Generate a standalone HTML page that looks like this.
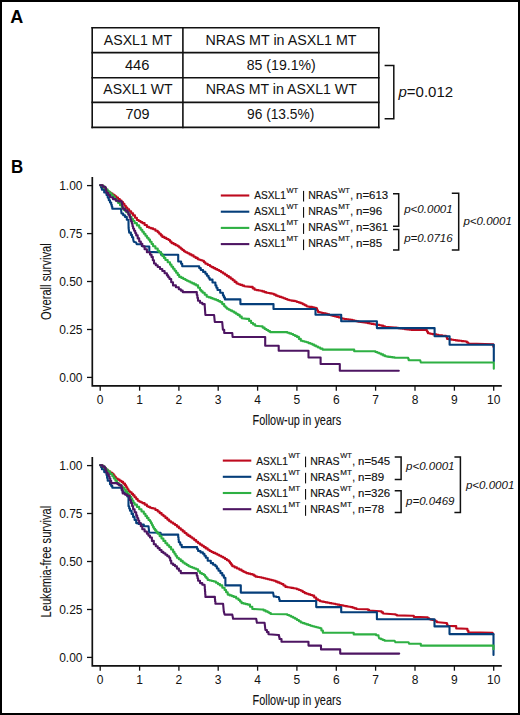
<!DOCTYPE html>
<html><head><meta charset="utf-8"><style>
html,body{margin:0;padding:0;background:#fff;}
body{width:520px;height:715px;overflow:hidden;position:relative;}
.frame{position:absolute;left:0;top:0;width:516px;height:711px;border:2px solid #000;}
svg{position:absolute;left:0;top:0;}
text{font-family:"Liberation Sans",sans-serif;fill:#111;}
.tb{font-size:14px;}
.pt{font-size:15px;}
.AB{font-size:18px;font-weight:bold;fill:#000;}
.tick{font-size:12px;}
.lab{font-size:14.3px;stroke:#111;stroke-width:0.1px;}
.leg{font-size:10.1px;stroke:#111;stroke-width:0.15px;}
.sup{font-size:7.8px;stroke:#111;stroke-width:0.15px;}
.pv{font-size:10.5px;font-style:italic;}
</style></head><body>
<div class="frame"></div>
<svg width="520" height="715" viewBox="0 0 520 715">
<line x1="91.4" y1="27.75" x2="379.6" y2="27.75" stroke="#111" stroke-width="1.6"/>
<line x1="91.4" y1="52.6" x2="379.6" y2="52.6" stroke="#111" stroke-width="1.6"/>
<line x1="91.4" y1="77.8" x2="379.6" y2="77.8" stroke="#111" stroke-width="1.6"/>
<line x1="91.4" y1="102.4" x2="379.6" y2="102.4" stroke="#111" stroke-width="1.6"/>
<line x1="91.4" y1="127.4" x2="379.6" y2="127.4" stroke="#111" stroke-width="1.6"/>
<line x1="92.2" y1="27" x2="92.2" y2="128.2" stroke="#111" stroke-width="1.6"/>
<line x1="182.9" y1="27" x2="182.9" y2="128.2" stroke="#111" stroke-width="1.6"/>
<line x1="378.8" y1="27" x2="378.8" y2="128.2" stroke="#111" stroke-width="1.6"/>
<text x="138.0" y="44.7" text-anchor="middle" class="tb" textLength="68.4" lengthAdjust="spacingAndGlyphs">ASXL1 MT</text>
<text x="281.05" y="44.7" text-anchor="middle" class="tb" textLength="151" lengthAdjust="spacingAndGlyphs">NRAS MT in ASXL1 MT</text>
<text x="137.15" y="69.6" text-anchor="middle" class="tb" textLength="24.5" lengthAdjust="spacingAndGlyphs">446</text>
<text x="281.25" y="69.6" text-anchor="middle" class="tb" textLength="69" lengthAdjust="spacingAndGlyphs">85 (19.1%)</text>
<text x="138.0" y="94.4" text-anchor="middle" class="tb" textLength="69.3" lengthAdjust="spacingAndGlyphs">ASXL1 WT</text>
<text x="281.25" y="94.4" text-anchor="middle" class="tb" textLength="151.2" lengthAdjust="spacingAndGlyphs">NRAS MT in ASXL1 WT</text>
<text x="137.5" y="119.3" text-anchor="middle" class="tb" textLength="24" lengthAdjust="spacingAndGlyphs">709</text>
<text x="280.65" y="119.3" text-anchor="middle" class="tb" textLength="67.3" lengthAdjust="spacingAndGlyphs">96 (13.5%)</text>
<polyline points="384.6,65.4 393.8,65.4 393.8,118.8 384.6,118.8" fill="none" stroke="#111" stroke-width="1.5"/>
<text x="398.5" y="97" class="pt"><tspan font-style="italic">p</tspan>=0.012</text>
<text x="10.3" y="23" class="AB">A</text>
<text x="10.9" y="172.7" class="AB" textLength="12.2" lengthAdjust="spacingAndGlyphs">B</text>
<polyline points="92.3,176.9 92.3,385.9 501.8,385.9" fill="none" stroke="#111" stroke-width="1.7" stroke-linejoin="miter"/>
<line x1="87" y1="185.6" x2="92.2" y2="185.6" stroke="#111" stroke-width="1.3"/>
<text x="82.5" y="190.1" text-anchor="end" class="tick">1.00</text>
<line x1="87" y1="233.6" x2="92.2" y2="233.6" stroke="#111" stroke-width="1.3"/>
<text x="82.5" y="238.1" text-anchor="end" class="tick">0.75</text>
<line x1="87" y1="281.5" x2="92.2" y2="281.5" stroke="#111" stroke-width="1.3"/>
<text x="82.5" y="286.0" text-anchor="end" class="tick">0.50</text>
<line x1="87" y1="329.5" x2="92.2" y2="329.5" stroke="#111" stroke-width="1.3"/>
<text x="82.5" y="334.0" text-anchor="end" class="tick">0.25</text>
<line x1="87" y1="377.4" x2="92.2" y2="377.4" stroke="#111" stroke-width="1.3"/>
<text x="82.5" y="381.9" text-anchor="end" class="tick">0.00</text>
<line x1="100.2" y1="385.9" x2="100.2" y2="390.7" stroke="#111" stroke-width="1.3"/>
<text x="100.2" y="403.8" text-anchor="middle" class="tick">0</text>
<line x1="139.6" y1="385.9" x2="139.6" y2="390.7" stroke="#111" stroke-width="1.3"/>
<text x="139.6" y="403.8" text-anchor="middle" class="tick">1</text>
<line x1="178.9" y1="385.9" x2="178.9" y2="390.7" stroke="#111" stroke-width="1.3"/>
<text x="178.9" y="403.8" text-anchor="middle" class="tick">2</text>
<line x1="218.2" y1="385.9" x2="218.2" y2="390.7" stroke="#111" stroke-width="1.3"/>
<text x="218.2" y="403.8" text-anchor="middle" class="tick">3</text>
<line x1="257.6" y1="385.9" x2="257.6" y2="390.7" stroke="#111" stroke-width="1.3"/>
<text x="257.6" y="403.8" text-anchor="middle" class="tick">4</text>
<line x1="296.9" y1="385.9" x2="296.9" y2="390.7" stroke="#111" stroke-width="1.3"/>
<text x="296.9" y="403.8" text-anchor="middle" class="tick">5</text>
<line x1="336.3" y1="385.9" x2="336.3" y2="390.7" stroke="#111" stroke-width="1.3"/>
<text x="336.3" y="403.8" text-anchor="middle" class="tick">6</text>
<line x1="375.6" y1="385.9" x2="375.6" y2="390.7" stroke="#111" stroke-width="1.3"/>
<text x="375.6" y="403.8" text-anchor="middle" class="tick">7</text>
<line x1="415.0" y1="385.9" x2="415.0" y2="390.7" stroke="#111" stroke-width="1.3"/>
<text x="415.0" y="403.8" text-anchor="middle" class="tick">8</text>
<line x1="454.4" y1="385.9" x2="454.4" y2="390.7" stroke="#111" stroke-width="1.3"/>
<text x="454.4" y="403.8" text-anchor="middle" class="tick">9</text>
<line x1="493.7" y1="385.9" x2="493.7" y2="390.7" stroke="#111" stroke-width="1.3"/>
<text x="493.7" y="403.8" text-anchor="middle" class="tick">10</text>
<text x="0" y="0" class="lab" text-anchor="middle" textLength="76.6" lengthAdjust="spacingAndGlyphs" transform="translate(50.7,281.6) rotate(-90)">Overall survival</text>
<text x="296.8" y="424.9" class="lab" text-anchor="middle" textLength="88.6" lengthAdjust="spacingAndGlyphs">Follow-up in years</text>
<polyline points="92.3,456.9 92.3,665.9 501.8,665.9" fill="none" stroke="#111" stroke-width="1.7" stroke-linejoin="miter"/>
<line x1="87" y1="465.6" x2="92.2" y2="465.6" stroke="#111" stroke-width="1.3"/>
<text x="82.5" y="470.1" text-anchor="end" class="tick">1.00</text>
<line x1="87" y1="513.5" x2="92.2" y2="513.5" stroke="#111" stroke-width="1.3"/>
<text x="82.5" y="518.0" text-anchor="end" class="tick">0.75</text>
<line x1="87" y1="561.5" x2="92.2" y2="561.5" stroke="#111" stroke-width="1.3"/>
<text x="82.5" y="566.0" text-anchor="end" class="tick">0.50</text>
<line x1="87" y1="609.5" x2="92.2" y2="609.5" stroke="#111" stroke-width="1.3"/>
<text x="82.5" y="614.0" text-anchor="end" class="tick">0.25</text>
<line x1="87" y1="657.4" x2="92.2" y2="657.4" stroke="#111" stroke-width="1.3"/>
<text x="82.5" y="661.9" text-anchor="end" class="tick">0.00</text>
<line x1="100.2" y1="665.9" x2="100.2" y2="670.7" stroke="#111" stroke-width="1.3"/>
<text x="100.2" y="683.8" text-anchor="middle" class="tick">0</text>
<line x1="139.6" y1="665.9" x2="139.6" y2="670.7" stroke="#111" stroke-width="1.3"/>
<text x="139.6" y="683.8" text-anchor="middle" class="tick">1</text>
<line x1="178.9" y1="665.9" x2="178.9" y2="670.7" stroke="#111" stroke-width="1.3"/>
<text x="178.9" y="683.8" text-anchor="middle" class="tick">2</text>
<line x1="218.2" y1="665.9" x2="218.2" y2="670.7" stroke="#111" stroke-width="1.3"/>
<text x="218.2" y="683.8" text-anchor="middle" class="tick">3</text>
<line x1="257.6" y1="665.9" x2="257.6" y2="670.7" stroke="#111" stroke-width="1.3"/>
<text x="257.6" y="683.8" text-anchor="middle" class="tick">4</text>
<line x1="296.9" y1="665.9" x2="296.9" y2="670.7" stroke="#111" stroke-width="1.3"/>
<text x="296.9" y="683.8" text-anchor="middle" class="tick">5</text>
<line x1="336.3" y1="665.9" x2="336.3" y2="670.7" stroke="#111" stroke-width="1.3"/>
<text x="336.3" y="683.8" text-anchor="middle" class="tick">6</text>
<line x1="375.6" y1="665.9" x2="375.6" y2="670.7" stroke="#111" stroke-width="1.3"/>
<text x="375.6" y="683.8" text-anchor="middle" class="tick">7</text>
<line x1="415.0" y1="665.9" x2="415.0" y2="670.7" stroke="#111" stroke-width="1.3"/>
<text x="415.0" y="683.8" text-anchor="middle" class="tick">8</text>
<line x1="454.4" y1="665.9" x2="454.4" y2="670.7" stroke="#111" stroke-width="1.3"/>
<text x="454.4" y="683.8" text-anchor="middle" class="tick">9</text>
<line x1="493.7" y1="665.9" x2="493.7" y2="670.7" stroke="#111" stroke-width="1.3"/>
<text x="493.7" y="683.8" text-anchor="middle" class="tick">10</text>
<text x="0" y="0" class="lab" text-anchor="middle" textLength="111.6" lengthAdjust="spacingAndGlyphs" transform="translate(50.7,561.6) rotate(-90)">Leukemia-free survival</text>
<text x="296.8" y="704.9" class="lab" text-anchor="middle" textLength="88.6" lengthAdjust="spacingAndGlyphs">Follow-up in years</text>
<polyline points="100.2,185.3 102.3,185.3 102.3,187.2 104.4,187.2 104.4,189.1 106.5,189.1 106.5,191.0 108.5,191.0 108.5,192.3 110.5,192.3 110.5,193.6 112.6,193.6 112.6,194.9 114.6,194.9 114.6,196.2 116.3,196.2 116.3,197.6 118.0,197.6 118.0,199.1 119.8,199.1 119.8,200.6 121.5,200.6 121.5,202.0 123.0,202.0 123.0,203.8 124.4,203.8 124.4,205.7 125.8,205.7 125.8,207.6 127.3,207.6 127.3,209.4 129.2,209.4 129.2,211.4 131.2,211.4 131.2,213.4 133.1,213.4 133.1,215.4 135.0,215.4 135.0,217.7 136.9,217.7 136.9,220.0 138.7,220.0 138.7,221.0 140.5,221.0 140.5,222.1 142.3,222.1 142.3,223.1 144.6,223.1 144.6,225.0 146.9,225.0 146.9,226.9 149.0,226.9 149.0,227.7 151.0,227.7 151.0,228.4 153.1,228.4 153.1,229.2 155.4,229.2 155.4,230.8 157.7,230.8 157.7,232.3 159.2,232.3 159.2,233.8 160.8,233.8 160.8,235.4 162.3,235.4 162.3,236.9 164.4,236.9 164.4,237.9 166.4,237.9 166.4,239.0 168.5,239.0 168.5,240.0 170.0,240.0 170.0,241.6 171.5,241.6 171.5,243.1 173.6,243.1 173.6,244.1 175.6,244.1 175.6,245.2 177.7,245.2 177.7,246.2 179.2,246.2 179.2,247.5 180.8,247.5 180.8,248.7 182.3,248.7 182.3,250.0 183.9,250.0 183.9,251.2 185.4,251.2 185.4,252.3 187.4,252.3 187.4,253.3 189.5,253.3 189.5,254.4 191.5,254.4 191.5,255.4 193.6,255.4 193.6,256.7 195.6,256.7 195.6,257.9 197.7,257.9 197.7,259.2 199.2,259.2 199.2,259.7 200.8,259.7 200.8,260.3 202.3,260.3 202.3,260.8 203.9,260.8 203.9,262.3 205.4,262.3 205.4,263.8 207.7,263.8 207.7,265.0 210.0,265.0 210.0,266.2 211.5,266.2 211.5,267.1 213.4,267.1 213.4,268.1 215.3,268.1 215.3,269.1 217.3,269.1 217.3,270.0 219.2,270.0 219.2,271.0 221.1,271.0 221.1,272.3 223.1,272.3 223.1,273.5 225.0,273.5 225.0,274.8 226.9,274.8 226.9,276.1 228.9,276.1 228.9,277.4 230.8,277.4 230.8,278.7 232.7,278.7 232.7,280.3 234.6,280.3 234.6,281.9 236.5,281.9 236.5,283.5 238.4,283.5 238.4,284.2 240.3,284.2 240.3,284.9 242.3,284.9 242.3,285.6 244.2,285.6 244.2,286.3 250.8,286.9 252.7,286.9 252.7,288.4 254.6,288.4 254.6,289.8 256.5,289.8 256.5,290.1 258.5,290.1 258.5,290.5 260.4,290.5 260.4,290.8 262.3,290.8 262.3,291.4 264.3,291.4 264.3,292.1 266.2,292.1 266.2,292.7 268.1,292.7 268.1,293.0 270.0,293.0 270.0,293.4 271.9,293.4 271.9,293.7 273.9,293.7 273.9,294.6 275.8,294.6 275.8,295.6 277.7,295.6 277.7,296.2 279.6,296.2 279.6,296.9 281.5,296.9 281.5,297.5 283.4,297.5 283.4,298.3 285.4,298.3 285.4,299.0 287.3,299.0 287.3,299.8 289.2,299.8 289.2,300.2 291.1,300.2 291.1,300.6 293.1,300.6 293.1,300.9 295.0,300.9 295.0,301.3 296.9,301.3 296.9,302.0 298.9,302.0 298.9,302.6 300.8,302.6 300.8,303.3 302.7,303.3 302.7,304.3 304.6,304.3 304.6,305.2 306.5,305.2 306.5,306.2 310.0,306.9 312.0,306.9 312.0,307.4 314.0,307.4 314.0,307.8 316.0,307.8 316.0,308.3 317.0,308.3 317.0,310.2 318.0,310.2 318.0,312.1 319.9,312.1 319.9,312.5 321.9,312.5 321.9,313.0 323.9,313.0 323.9,313.4 325.8,313.4 325.8,313.8 327.5,313.8 327.5,314.4 329.2,314.4 329.2,315.0 331.1,315.0 331.1,315.5 333.0,315.5 333.0,315.9 335.0,315.9 335.0,316.4 336.9,316.4 336.9,316.9 338.8,316.9 338.8,317.5 340.8,317.5 340.8,318.2 342.7,318.2 342.7,318.8 344.6,318.8 344.6,319.1 346.5,319.1 346.5,319.3 348.5,319.3 348.5,319.6 350.4,319.6 350.4,319.8 352.3,319.8 352.3,320.3 354.2,320.3 354.2,320.8 356.2,320.8 356.2,321.2 358.1,321.2 358.1,321.7 360.0,321.7 360.0,322.0 361.9,322.0 361.9,322.3 363.9,322.3 363.9,322.5 365.8,322.5 365.8,322.8 367.7,322.8 367.7,323.1 369.6,323.1 369.6,323.5 371.5,323.5 371.5,323.9 373.5,323.9 373.5,324.2 375.4,324.2 375.4,324.6 377.3,324.6 377.3,324.9 379.3,324.9 379.3,325.3 381.2,325.3 381.2,325.6 383.1,325.6 383.1,326.2 385.0,326.2 385.0,326.9 394.6,327.5 396.4,327.5 396.4,327.8 398.2,327.8 398.2,328.2 400.0,328.2 400.0,328.5 402.3,328.5 402.3,328.8 404.6,328.8 404.6,329.1 406.9,329.1 406.9,329.4 409.2,329.4 409.2,329.7 411.5,329.7 411.5,330.0 426.0,330.0 426.9,330.0 426.9,331.6 427.9,331.6 427.9,333.3 430.0,333.3 430.0,333.7 432.1,333.7 432.1,334.1 434.3,334.1 434.3,334.4 436.4,334.4 436.4,334.8 438.5,334.8 438.5,335.2 440.4,335.2 440.4,335.4 442.2,335.4 442.2,335.7 444.1,335.7 444.1,335.9 446.0,335.9 446.0,336.2 446.6,336.2 446.6,337.6 447.1,337.6 447.1,339.0 449.3,339.0 449.3,339.4 451.5,339.4 451.5,339.7 453.6,339.7 453.6,340.0 455.8,340.0 455.8,340.4 457.7,340.4 457.7,340.6 459.6,340.6 459.6,340.8 461.6,340.8 461.6,341.1 463.5,341.1 463.5,341.3 465.4,341.3 465.4,341.5 466.9,341.5 466.9,342.5 468.3,342.5 468.3,343.5 493.3,344.2 493.3,346.7" fill="none" stroke="#be0a1e" stroke-width="2.1" stroke-linejoin="round" stroke-linecap="round"/>
<polyline points="100.2,185.3 101.1,185.3 101.1,187.6 101.9,187.6 101.9,189.8 104.2,189.8 104.2,192.4 106.5,192.4 106.5,195.0 107.7,195.0 107.7,197.6 108.8,197.6 108.8,200.2 110.0,200.2 110.0,202.5 111.2,202.5 111.2,204.8 111.8,204.8 111.8,206.8 112.3,206.8 112.3,208.8 121.0,208.8 121.5,213.5 123.2,213.5 123.2,215.2 125.0,215.2 125.0,216.9 126.8,216.9 126.8,219.8 128.5,219.8 128.5,222.7 128.6,228.0 129.2,232.6 130.9,232.6 130.9,234.9 132.0,234.9 132.0,237.2 133.2,237.2 133.2,239.5 133.8,241.8 136.1,242.4 136.7,244.2 140.7,244.2 141.8,244.2 141.8,245.9 144.2,246.5 149.3,246.5 149.3,251.9 158.0,252.2 161.0,252.2 161.0,254.8 178.2,254.8 178.2,261.5 181.1,261.5 181.1,263.8 182.2,263.8 182.2,266.2 197.7,266.2 199.2,266.2 199.2,268.1 200.8,268.1 200.8,270.0 203.1,270.0 203.1,271.9 205.4,271.9 205.4,273.8 206.9,273.8 206.9,275.8 208.5,275.8 208.5,277.7 209.6,277.7 209.6,279.6 212.5,279.6 212.5,282.5 215.4,282.5 215.4,285.4 216.4,285.4 216.4,287.7 217.5,287.7 217.5,290.0 220.2,290.0 220.2,292.7 222.9,292.7 222.9,295.4 223.9,295.4 223.9,297.4 224.9,297.4 224.9,299.4 240.4,299.4 240.4,304.1 273.5,304.1 273.5,309.0 315.5,309.0 315.5,314.8 341.2,314.8 341.2,321.2 376.9,321.2 376.9,328.1 434.6,328.1 434.6,336.2 449.6,336.2 449.6,344.8 493.8,344.8 493.8,361.2" fill="none" stroke="#053e7a" stroke-width="2.1" stroke-linejoin="round" stroke-linecap="round"/>
<polyline points="100.2,185.3 101.9,185.8 103.8,185.8 103.8,187.7 105.8,187.7 105.8,189.6 107.7,189.6 107.7,191.5 109.6,191.5 109.6,193.4 111.6,193.4 111.6,195.4 113.5,195.4 113.5,197.3 115.0,197.3 115.0,199.2 116.6,199.2 116.6,201.1 118.1,201.1 118.1,203.0 120.0,203.0 120.0,205.3 121.9,205.3 121.9,207.7 123.8,207.7 123.8,210.0 126.2,210.0 126.2,212.3 128.5,212.3 128.5,214.6 130.0,214.6 130.0,216.9 131.5,216.9 131.5,219.0 133.1,219.0 133.1,221.0 134.6,221.0 134.6,223.1 136.9,223.1 136.9,225.4 139.2,225.4 139.2,227.7 140.7,227.7 140.7,229.7 142.3,229.7 142.3,231.8 143.8,231.8 143.8,233.8 145.4,233.8 145.4,235.7 146.9,235.7 146.9,237.7 148.5,237.7 148.5,239.6 150.0,239.6 150.0,241.8 151.6,241.8 151.6,244.0 153.1,244.0 153.1,246.2 155.4,246.2 155.4,248.5 157.7,248.5 157.7,250.8 159.2,250.8 159.2,252.3 160.8,252.3 160.8,253.8 162.3,253.8 162.3,255.9 163.9,255.9 163.9,257.9 165.4,257.9 165.4,260.0 167.7,260.0 167.7,262.3 170.0,262.3 170.0,264.6 171.5,264.6 171.5,266.7 173.1,266.7 173.1,268.7 174.6,268.7 174.6,270.8 176.1,270.8 176.1,272.8 177.7,272.8 177.7,274.9 179.2,274.9 179.2,276.9 181.3,276.9 181.3,277.9 183.3,277.9 183.3,279.0 185.4,279.0 185.4,280.0 186.9,280.0 186.9,280.8 188.5,280.8 188.5,281.5 190.4,281.5 190.4,282.5 192.3,282.5 192.3,283.4 194.3,283.4 194.3,284.4 196.2,284.4 196.2,285.4 198.1,285.4 198.1,287.7 200.0,287.7 200.0,290.0 201.3,290.0 201.3,291.4 202.7,291.4 202.7,292.7 204.7,292.7 204.7,294.7 206.7,294.7 206.7,296.7 208.8,296.7 208.8,297.4 210.8,297.4 210.8,298.1 212.6,298.1 212.6,298.8 214.4,298.8 214.4,299.4 216.2,299.4 216.2,300.1 218.2,300.1 218.2,301.1 220.2,301.1 220.2,302.1 222.2,302.1 222.2,304.1 224.2,304.1 224.2,306.2 225.6,306.2 225.6,307.5 226.9,307.5 226.9,308.8 228.7,308.8 228.7,309.7 230.5,309.7 230.5,310.6 232.3,310.6 232.3,311.5 234.1,311.5 234.1,312.6 235.9,312.6 235.9,313.8 237.7,313.8 237.7,314.9 239.7,314.9 239.7,316.6 241.7,316.6 241.7,318.3 247.1,318.9 249.1,318.9 249.1,320.9 251.1,320.9 251.1,323.0 253.1,323.0 253.1,324.4 255.2,324.4 255.2,325.7 260.6,326.3 262.6,326.3 262.6,327.6 264.6,327.6 264.6,329.0 266.4,329.0 266.4,330.0 268.2,330.0 268.2,331.1 270.0,331.1 270.0,332.1 285.4,332.1 287.3,332.1 287.3,332.7 289.3,332.7 289.3,333.4 291.2,333.4 291.2,334.0 293.1,334.0 293.1,335.0 295.0,335.0 295.0,335.9 296.9,335.9 296.9,336.9 298.9,336.9 298.9,338.9 300.8,338.9 300.8,340.8 302.7,340.8 302.7,341.3 304.6,341.3 304.6,341.8 306.5,341.8 306.5,342.3 308.4,342.3 308.4,343.1 310.4,343.1 310.4,343.8 312.3,343.8 312.3,344.6 314.2,344.6 314.2,345.6 316.1,345.6 316.1,346.5 318.0,346.5 318.0,347.5 320.2,347.5 320.2,348.6 322.5,348.6 322.5,349.6 352.3,349.6 354.2,349.6 354.2,351.2 373.5,351.2 375.4,351.2 375.4,352.0 377.3,352.0 377.3,352.7 379.2,352.7 379.2,353.5 381.1,353.5 381.1,354.4 383.1,354.4 383.1,355.4 385.0,355.4 385.0,356.3 386.9,356.3 386.9,356.6 388.8,356.6 388.8,356.9 390.8,356.9 390.8,357.1 392.7,357.1 392.7,357.4 394.6,357.4 394.6,357.7 407.7,357.7 408.2,357.7 408.2,358.9 408.7,358.9 408.7,360.2 420.2,360.2 420.8,362.5 493.8,362.5 493.8,368.8" fill="none" stroke="#2eb043" stroke-width="2.1" stroke-linejoin="round" stroke-linecap="round"/>
<polyline points="100.2,185.3 102.8,185.3 102.8,186.7 105.4,186.7 105.4,188.0 106.0,188.0 106.0,190.3 106.5,190.3 106.5,192.7 108.2,192.7 108.2,195.0 110.0,195.0 110.0,197.3 112.9,197.3 112.9,199.1 115.8,199.1 115.8,200.8 118.7,200.8 118.7,201.4 121.5,201.4 121.5,202.0 121.9,202.0 121.9,204.3 122.3,204.3 122.3,206.5 122.7,206.5 122.7,208.8 125.0,208.8 125.0,210.6 127.3,210.6 127.3,212.3 128.4,212.3 128.4,214.6 129.6,214.6 129.6,216.9 130.4,216.9 130.4,219.2 131.1,219.2 131.1,221.5 131.9,221.5 131.9,223.8 132.5,223.8 132.5,226.2 133.1,226.2 133.1,228.5 134.1,228.5 134.1,230.8 135.2,230.8 135.2,233.1 136.2,233.1 136.2,235.4 137.7,235.4 137.7,238.4 139.2,238.4 139.2,241.5 140.8,241.5 140.8,243.8 142.3,243.8 142.3,246.2 144.6,246.2 144.6,249.2 146.9,249.2 146.9,252.3 150.0,252.3 150.0,254.6 151.5,254.6 151.5,256.9 152.8,256.9 152.8,260.2 154.0,260.2 154.0,263.5 155.8,263.5 155.8,265.2 157.7,265.2 157.7,267.0 160.0,267.0 160.0,269.0 162.3,269.0 162.3,271.0 164.6,271.0 164.6,273.2 166.9,273.2 166.9,275.4 168.2,275.4 168.2,277.2 169.5,277.2 169.5,279.0 171.2,279.0 171.2,282.2 173.0,282.2 173.0,285.4 175.9,285.4 175.9,287.3 178.8,287.3 178.8,289.2 180.8,289.2 180.8,290.6 182.7,290.6 182.7,292.1 196.2,292.1 196.8,292.1 196.8,295.0 197.4,295.0 197.4,297.9 198.0,297.9 198.0,300.8 200.0,300.8 200.0,302.8 202.3,302.8 202.3,304.1 204.7,304.1 204.7,305.5 205.4,315.0 214.1,315.0 214.8,322.0 222.2,322.0 222.9,329.7 224.2,329.7 224.2,333.0 232.3,333.0 232.6,337.0 265.2,337.0 265.2,345.7 278.7,345.7 278.7,350.8 308.5,350.8 308.5,357.5 320.6,357.5 320.6,364.0 339.8,364.0 339.8,370.8 398.8,370.8" fill="none" stroke="#4d1562" stroke-width="2.1" stroke-linejoin="round" stroke-linecap="round"/>
<polyline points="100.2,465.2 102.3,465.2 102.3,466.9 104.4,466.9 104.4,468.7 106.5,468.7 106.5,470.4 108.4,470.4 108.4,471.5 110.4,471.5 110.4,472.7 112.3,472.7 112.3,473.8 113.5,473.8 113.5,475.4 114.6,475.4 114.6,476.9 115.8,476.9 115.8,478.5 117.7,478.5 117.7,479.6 119.6,479.6 119.6,480.8 121.5,480.8 121.5,481.9 123.2,481.9 123.2,483.6 125.0,483.6 125.0,485.4 126.2,485.4 126.2,487.3 127.3,487.3 127.3,489.3 128.5,489.3 128.5,491.2 130.0,491.2 130.0,492.3 131.6,492.3 131.6,493.9 133.1,493.9 133.1,495.4 134.6,495.4 134.6,497.2 136.2,497.2 136.2,499.0 137.7,499.0 137.7,500.8 139.2,500.8 139.2,501.6 140.8,501.6 140.8,502.3 142.3,502.3 142.3,503.1 144.6,503.1 144.6,504.6 146.9,504.6 146.9,506.2 148.4,506.2 148.4,506.9 150.0,506.9 150.0,507.7 151.6,507.7 151.6,508.1 153.1,508.1 153.1,508.5 155.4,508.5 155.4,510.0 157.7,510.0 157.7,511.5 159.6,511.5 159.6,513.1 161.6,513.1 161.6,514.7 163.5,514.7 163.5,516.3 165.4,516.3 165.4,517.9 167.3,517.9 167.3,519.6 169.2,519.6 169.2,521.2 171.1,521.2 171.1,522.5 173.1,522.5 173.1,523.7 175.0,523.7 175.0,525.0 176.9,525.0 176.9,526.6 178.9,526.6 178.9,528.2 180.8,528.2 180.8,529.8 182.7,529.8 182.7,531.4 184.6,531.4 184.6,533.0 186.5,533.0 186.5,534.6 188.4,534.6 188.4,535.9 190.4,535.9 190.4,537.2 192.3,537.2 192.3,538.5 194.2,538.5 194.2,540.1 196.2,540.1 196.2,541.7 198.1,541.7 198.1,543.3 200.0,543.3 200.0,544.6 201.9,544.6 201.9,545.8 203.8,545.8 203.8,547.1 205.7,547.1 205.7,548.4 207.7,548.4 207.7,549.7 209.6,549.7 209.6,551.0 211.5,551.0 211.5,552.0 213.4,552.0 213.4,552.9 215.4,552.9 215.4,553.8 217.3,553.8 217.3,554.8 219.2,554.8 219.2,555.8 221.2,555.8 221.2,556.7 223.1,556.7 223.1,557.7 225.0,557.7 225.0,559.0 226.9,559.0 226.9,560.2 228.8,560.2 228.8,561.5 230.0,561.5 230.0,563.1 231.1,563.1 231.1,564.6 232.3,564.6 232.3,566.2 234.6,566.2 234.6,567.4 236.9,567.4 236.9,568.5 239.2,568.5 239.2,569.6 241.5,569.6 241.5,570.8 243.1,570.8 243.1,571.6 244.6,571.6 244.6,572.3 246.2,572.3 246.2,573.1 248.2,573.1 248.2,573.6 250.3,573.6 250.3,574.1 252.3,574.1 252.3,574.6 253.9,574.6 253.9,575.6 255.4,575.6 255.4,576.6 257.4,576.6 257.4,577.0 259.5,577.0 259.5,577.3 261.5,577.3 261.5,577.7 263.6,577.7 263.6,578.2 265.6,578.2 265.6,578.7 267.7,578.7 267.7,579.2 269.7,579.2 269.7,579.7 271.8,579.7 271.8,580.3 273.8,580.3 273.8,580.8 275.7,580.8 275.7,581.6 277.6,581.6 277.6,582.4 279.6,582.4 279.6,583.2 281.5,583.2 281.5,584.0 283.4,584.0 283.4,585.5 285.4,585.5 285.4,586.9 287.3,586.9 287.3,587.2 289.2,587.2 289.2,587.5 291.2,587.5 291.2,587.9 293.1,587.9 293.1,588.2 295.0,588.2 295.0,588.5 296.9,588.5 296.9,589.3 298.9,589.3 298.9,590.0 300.8,590.0 300.8,590.8 302.7,590.8 302.7,592.0 304.6,592.0 304.6,593.1 306.5,593.1 306.5,593.7 308.5,593.7 308.5,594.4 310.4,594.4 310.4,595.0 312.3,595.0 312.3,595.6 314.2,595.6 314.2,597.5 316.2,597.5 316.2,599.4 318.1,599.4 318.1,600.3 320.0,600.3 320.0,601.3 321.9,601.3 321.9,601.6 323.9,601.6 323.9,602.0 325.8,602.0 325.8,602.4 327.7,602.4 327.7,602.7 329.6,602.7 329.6,603.1 331.5,603.1 331.5,603.5 333.5,603.5 333.5,603.8 335.4,603.8 335.4,604.2 337.3,604.2 337.3,604.6 339.2,604.6 339.2,605.0 341.2,605.0 341.2,605.4 343.1,605.4 343.1,605.8 345.0,605.8 345.0,606.1 347.0,606.1 347.0,606.5 348.9,606.5 348.9,606.8 350.8,606.8 350.8,607.1 352.7,607.1 352.7,607.7 354.6,607.7 354.6,608.4 356.5,608.4 356.5,609.0 366.9,609.2 368.0,609.2 368.0,609.9 369.2,609.9 369.2,610.5 380.0,611.2 381.6,611.2 381.6,612.4 383.1,612.4 383.1,613.5 393.8,614.2 395.4,614.2 395.4,614.8 396.9,614.8 396.9,615.4 412.3,615.7 413.8,615.7 413.8,616.9 426.2,617.2 427.7,617.2 427.7,618.2 429.2,618.2 429.2,619.2 430.7,619.2 430.7,619.6 432.3,619.6 432.3,619.9 433.8,619.9 433.8,620.3 435.4,620.3 435.4,621.3 436.9,621.3 436.9,622.3 438.1,622.3 446.2,623.0 446.9,623.0 446.9,624.4 447.5,624.4 447.5,625.7 454.2,626.1 456.2,626.1 456.2,628.4 466.3,628.8 467.4,628.8 467.4,630.6 468.4,630.6 468.4,632.4 492.6,632.8 493.3,634.4" fill="none" stroke="#be0a1e" stroke-width="2.1" stroke-linejoin="round" stroke-linecap="round"/>
<polyline points="100.2,465.2 101.1,465.2 101.1,467.2 101.9,467.2 101.9,469.2 104.2,469.2 104.2,472.1 106.5,472.1 106.5,475.0 107.1,475.0 107.1,477.9 107.7,477.9 107.7,480.8 110.0,480.8 110.0,484.2 111.2,484.2 111.2,485.9 112.3,485.9 112.3,487.7 120.4,487.7 121.6,487.7 121.6,490.0 122.7,490.0 122.7,492.3 124.5,492.3 124.5,493.5 126.2,493.5 126.2,494.6 127.3,494.6 127.3,496.4 128.5,496.4 128.5,498.1 128.5,506.2 129.2,506.2 129.2,508.5 130.0,508.5 130.0,510.8 131.6,510.8 131.6,513.9 133.1,513.9 133.1,516.9 134.6,516.9 134.6,520.0 136.2,520.0 136.2,523.1 138.5,523.1 138.5,523.9 140.8,523.9 140.8,524.6 143.8,524.6 143.8,526.2 148.5,526.2 149.2,532.5 159.6,532.7 160.6,532.7 160.6,534.6 177.9,534.6 178.2,534.6 178.2,537.2 178.5,537.2 178.5,539.7 178.8,539.7 178.8,542.3 180.2,542.3 180.2,544.7 181.7,544.7 181.7,547.1 196.2,547.1 197.1,547.1 197.1,549.0 198.1,549.0 198.1,551.0 200.5,551.0 200.5,552.4 202.9,552.4 202.9,553.8 204.4,553.8 204.4,555.8 205.8,555.8 205.8,557.7 207.7,557.7 207.7,560.8 210.8,560.8 210.8,563.1 213.1,563.1 213.1,564.7 215.4,564.7 215.4,566.2 216.9,566.2 216.9,568.5 218.5,568.5 218.5,570.8 220.4,570.8 220.4,573.1 222.3,573.1 222.3,575.4 223.9,575.4 223.9,577.7 225.4,577.7 225.4,580.0 225.4,585.4 240.8,585.4 240.8,592.6 273.1,592.6 273.8,596.5 276.2,596.5 276.2,597.0 278.7,597.0 278.7,597.5 279.1,597.5 279.1,599.2 279.6,599.2 279.6,601.0 316.2,601.0 316.2,607.1 341.2,607.1 341.2,612.3 376.9,612.3 376.9,619.2 434.5,619.2 434.5,626.4 449.5,626.4 449.5,634.1 493.5,634.1 493.5,654.9" fill="none" stroke="#053e7a" stroke-width="2.1" stroke-linejoin="round" stroke-linecap="round"/>
<polyline points="100.2,465.2 101.9,465.8 103.8,465.8 103.8,467.7 105.8,467.7 105.8,469.6 107.7,469.6 107.7,471.5 110.0,471.5 110.0,473.9 112.3,473.9 112.3,476.2 113.8,476.2 113.8,478.5 115.4,478.5 115.4,480.8 116.9,480.8 116.9,483.1 118.8,483.1 118.8,484.6 120.8,484.6 120.8,486.2 122.7,486.2 122.7,487.7 124.2,487.7 124.2,489.6 125.8,489.6 125.8,491.6 127.3,491.6 127.3,493.5 128.7,493.5 128.7,495.2 130.0,495.2 130.0,496.9 131.2,496.9 131.2,498.8 132.3,498.8 132.3,500.8 133.4,500.8 133.4,502.7 134.6,502.7 134.6,504.6 136.9,504.6 136.9,506.9 139.2,506.9 139.2,509.2 141.5,509.2 141.5,511.5 143.8,511.5 143.8,513.8 145.4,513.8 145.4,515.9 146.9,515.9 146.9,517.9 148.5,517.9 148.5,520.0 150.0,520.0 150.0,521.2 150.9,521.2 150.9,523.1 151.9,523.1 151.9,525.0 152.9,525.0 152.9,526.9 153.8,526.9 153.8,528.8 155.1,528.8 155.1,530.4 156.4,530.4 156.4,532.1 157.7,532.1 157.7,533.7 159.6,533.7 159.6,536.1 161.5,536.1 161.5,538.5 163.4,538.5 163.4,540.9 165.4,540.9 165.4,543.3 167.3,543.3 167.3,545.2 169.2,545.2 169.2,547.1 171.1,547.1 171.1,549.5 173.1,549.5 173.1,551.9 174.4,551.9 174.4,553.8 175.6,553.8 175.6,555.8 176.9,555.8 176.9,557.7 178.8,557.7 178.8,559.3 180.8,559.3 180.8,560.9 182.7,560.9 182.7,562.5 184.6,562.5 184.6,563.8 186.6,563.8 186.6,565.0 188.5,565.0 188.5,566.3 190.4,566.3 190.4,567.0 192.3,567.0 192.3,567.8 194.3,567.8 194.3,568.5 196.2,568.5 196.2,569.2 198.1,569.2 198.1,571.2 200.0,571.2 200.0,573.1 201.9,573.1 201.9,574.0 203.8,574.0 203.8,575.0 205.1,575.0 205.1,576.7 206.4,576.7 206.4,578.3 207.7,578.3 207.7,580.0 209.7,580.0 209.7,580.5 211.8,580.5 211.8,581.0 213.8,581.0 213.8,581.5 215.9,581.5 215.9,582.8 217.9,582.8 217.9,584.1 220.0,584.1 220.0,585.4 222.3,585.4 222.3,587.7 224.6,587.7 224.6,590.0 226.1,590.0 226.1,592.3 227.7,592.3 227.7,594.6 229.7,594.6 229.7,595.4 231.8,595.4 231.8,596.1 233.8,596.1 233.8,596.9 236.2,596.9 236.2,598.5 238.5,598.5 238.5,600.0 240.0,600.0 240.0,601.5 241.5,601.5 241.5,603.1 243.6,603.1 243.6,603.6 245.6,603.6 245.6,604.1 247.7,604.1 247.7,604.6 250.0,604.6 250.0,606.8 252.3,606.8 252.3,608.9 261.5,609.5 263.6,609.5 263.6,610.4 265.6,610.4 265.6,611.4 267.7,611.4 267.7,612.3 269.2,612.3 269.2,613.1 270.8,613.1 270.8,614.0 285.4,614.2 287.3,614.2 287.3,615.0 289.2,615.0 289.2,615.8 291.1,615.8 291.1,616.8 293.1,616.8 293.1,617.7 295.0,617.7 295.0,618.7 296.9,618.7 296.9,620.0 298.9,620.0 298.9,621.2 300.8,621.2 300.8,622.5 302.7,622.5 302.7,623.1 304.6,623.1 304.6,623.8 306.5,623.8 306.5,624.4 308.4,624.4 308.4,625.0 310.4,625.0 310.4,625.7 312.3,625.7 312.3,626.3 314.2,626.3 314.2,626.8 316.1,626.8 316.1,627.3 318.1,627.3 318.1,627.8 320.0,627.8 320.0,628.3 321.4,628.3 321.4,630.5 322.9,630.5 322.9,632.7 352.7,632.7 353.7,632.7 353.7,634.4 373.8,634.4 376.1,634.4 376.1,635.3 378.5,635.3 378.5,636.2 379.2,638.5 381.0,638.5 381.0,639.3 382.8,639.3 382.8,640.0 384.6,640.0 384.6,640.8 394.6,640.8 395.4,642.3 408.5,642.3 409.2,643.8 420.0,643.8 420.8,643.8 420.8,645.6 493.5,645.6 493.5,649.2" fill="none" stroke="#2eb043" stroke-width="2.1" stroke-linejoin="round" stroke-linecap="round"/>
<polyline points="100.2,465.2 102.5,465.2 102.5,466.6 104.8,466.6 104.8,468.1 105.7,468.1 105.7,470.4 106.5,470.4 106.5,472.7 107.7,472.7 107.7,474.4 108.8,474.4 108.8,476.2 109.6,476.2 109.6,478.5 110.4,478.5 110.4,480.8 111.2,480.8 111.2,483.1 115.8,483.1 117.5,483.1 117.5,484.2 119.2,484.2 119.2,485.4 121.5,485.4 121.5,487.7 122.1,487.7 122.1,490.6 122.7,490.6 122.7,493.5 125.0,493.5 125.0,494.6 127.3,494.6 127.3,495.8 129.6,495.8 129.6,496.9 130.0,500.0 131.0,500.0 131.0,503.1 132.1,503.1 132.1,506.1 133.1,506.1 133.1,509.2 134.6,509.2 134.6,512.3 136.2,512.3 136.2,515.4 137.2,515.4 137.2,518.0 138.2,518.0 138.2,520.5 139.2,520.5 139.2,523.1 140.8,523.1 140.8,526.2 142.3,526.2 142.3,529.2 144.6,529.2 144.6,531.5 146.9,531.5 146.9,533.8 148.4,533.8 148.4,535.6 150.0,535.6 150.0,537.5 151.9,537.5 151.9,540.9 153.8,540.9 153.8,544.2 155.8,544.2 155.8,546.2 157.7,546.2 157.7,548.1 159.6,548.1 159.6,550.0 161.5,550.0 161.5,551.9 163.4,551.9 163.4,553.3 165.4,553.3 165.4,554.8 167.3,554.8 167.3,556.2 169.2,556.2 169.2,557.7 170.2,557.7 170.2,560.6 171.2,560.6 171.2,563.5 173.1,563.5 173.1,564.9 175.0,564.9 175.0,566.3 176.9,566.3 176.9,568.6 178.9,568.6 178.9,570.8 180.8,570.8 180.8,573.1 196.2,573.1 196.8,573.1 196.8,575.7 197.5,575.7 197.5,578.2 198.1,578.2 198.1,580.8 200.0,580.8 200.0,583.1 202.3,583.1 202.3,584.7 204.6,584.7 204.6,586.2 204.8,586.2 204.8,588.9 205.0,588.9 205.0,591.5 205.2,591.5 205.2,594.2 205.4,594.2 205.4,596.9 214.6,596.9 214.9,596.9 214.9,599.2 215.1,599.2 215.1,601.5 215.4,601.5 215.4,603.8 223.1,603.8 223.8,611.5 224.6,614.6 232.3,614.6 233.1,618.8 256.2,618.8 256.9,622.8 264.6,622.8 265.4,630.0 266.9,630.0 266.9,632.1 268.5,632.1 268.5,634.3 278.5,635.0 279.0,635.0 279.0,637.0 279.5,637.0 279.5,639.0 281.5,639.0 281.5,641.7 308.5,641.7 308.5,645.6 321.0,645.6 321.0,649.4 340.2,649.4 340.2,653.6 399.2,653.6" fill="none" stroke="#4d1562" stroke-width="2.1" stroke-linejoin="round" stroke-linecap="round"/>
<line x1="220.8" y1="195.5" x2="249.3" y2="195.5" stroke="#be0a1e" stroke-width="2.1"/>
<text x="254.3" y="198.8" class="leg" textLength="31.6" lengthAdjust="spacingAndGlyphs">ASXL1</text>
<text x="286.5" y="192.6" class="sup" textLength="11.6" lengthAdjust="spacingAndGlyphs">WT</text>
<rect x="303.0" y="190.9" width="1.1" height="10.6" fill="#111"/>
<text x="308.2" y="198.8" class="leg" textLength="29.3" lengthAdjust="spacingAndGlyphs">NRAS</text>
<text x="338.3" y="192.6" class="sup" textLength="11.6" lengthAdjust="spacingAndGlyphs">WT</text>
<text x="350.2" y="198.8" class="leg">,</text>
<text x="356.1" y="198.8" class="leg" textLength="32.0" lengthAdjust="spacingAndGlyphs">n=613</text>
<line x1="220.8" y1="211.7" x2="249.3" y2="211.7" stroke="#053e7a" stroke-width="2.1"/>
<text x="254.3" y="215.0" class="leg" textLength="31.6" lengthAdjust="spacingAndGlyphs">ASXL1</text>
<text x="286.5" y="208.8" class="sup" textLength="11.6" lengthAdjust="spacingAndGlyphs">WT</text>
<rect x="303.0" y="207.1" width="1.1" height="10.6" fill="#111"/>
<text x="308.2" y="215.0" class="leg" textLength="29.3" lengthAdjust="spacingAndGlyphs">NRAS</text>
<text x="338.3" y="208.8" class="sup" textLength="11.6" lengthAdjust="spacingAndGlyphs">MT</text>
<text x="350.2" y="215.0" class="leg">,</text>
<text x="356.1" y="215.0" class="leg" textLength="26.0" lengthAdjust="spacingAndGlyphs">n=96</text>
<line x1="220.8" y1="227.9" x2="249.3" y2="227.9" stroke="#2eb043" stroke-width="2.1"/>
<text x="254.3" y="231.2" class="leg" textLength="31.6" lengthAdjust="spacingAndGlyphs">ASXL1</text>
<text x="286.5" y="225.0" class="sup" textLength="11.6" lengthAdjust="spacingAndGlyphs">MT</text>
<rect x="303.0" y="223.3" width="1.1" height="10.6" fill="#111"/>
<text x="308.2" y="231.2" class="leg" textLength="29.3" lengthAdjust="spacingAndGlyphs">NRAS</text>
<text x="338.3" y="225.0" class="sup" textLength="11.6" lengthAdjust="spacingAndGlyphs">WT</text>
<text x="350.2" y="231.2" class="leg">,</text>
<text x="356.1" y="231.2" class="leg" textLength="32.0" lengthAdjust="spacingAndGlyphs">n=361</text>
<line x1="220.8" y1="244.1" x2="249.3" y2="244.1" stroke="#4d1562" stroke-width="2.1"/>
<text x="254.3" y="247.4" class="leg" textLength="31.6" lengthAdjust="spacingAndGlyphs">ASXL1</text>
<text x="286.5" y="241.2" class="sup" textLength="11.6" lengthAdjust="spacingAndGlyphs">MT</text>
<rect x="303.0" y="239.5" width="1.1" height="10.6" fill="#111"/>
<text x="308.2" y="247.4" class="leg" textLength="29.3" lengthAdjust="spacingAndGlyphs">NRAS</text>
<text x="338.3" y="241.2" class="sup" textLength="11.6" lengthAdjust="spacingAndGlyphs">MT</text>
<text x="350.2" y="247.4" class="leg">,</text>
<text x="356.1" y="247.4" class="leg" textLength="26.0" lengthAdjust="spacingAndGlyphs">n=85</text>
<polyline points="393,193.7 398.7,193.7 398.7,226.2 393,226.2" fill="none" stroke="#111" stroke-width="1.5"/>
<polyline points="393,229.6 398.7,229.6 398.7,249.9 393,249.9" fill="none" stroke="#111" stroke-width="1.5"/>
<polyline points="451.8,193.3 458.7,193.3 458.7,249.9 451.8,249.9" fill="none" stroke="#111" stroke-width="1.5"/>
<text x="404.2" y="213.1" class="pv" textLength="48.5" lengthAdjust="spacingAndGlyphs">p&lt;0.0001</text>
<text x="404.2" y="242.2" class="pv" textLength="48.5" lengthAdjust="spacingAndGlyphs">p=0.0716</text>
<text x="463.4" y="225.0" class="pv" textLength="48.5" lengthAdjust="spacingAndGlyphs">p&lt;0.0001</text>
<line x1="222.8" y1="460.6" x2="251.3" y2="460.6" stroke="#be0a1e" stroke-width="2.1"/>
<text x="256.3" y="464.5" class="leg" textLength="31.6" lengthAdjust="spacingAndGlyphs">ASXL1</text>
<text x="288.5" y="458.3" class="sup" textLength="11.6" lengthAdjust="spacingAndGlyphs">WT</text>
<rect x="305.0" y="456.6" width="1.1" height="10.6" fill="#111"/>
<text x="310.2" y="464.5" class="leg" textLength="29.3" lengthAdjust="spacingAndGlyphs">NRAS</text>
<text x="340.3" y="458.3" class="sup" textLength="11.6" lengthAdjust="spacingAndGlyphs">WT</text>
<text x="352.2" y="464.5" class="leg">,</text>
<text x="358.1" y="464.5" class="leg" textLength="32.0" lengthAdjust="spacingAndGlyphs">n=545</text>
<line x1="222.8" y1="476.8" x2="251.3" y2="476.8" stroke="#053e7a" stroke-width="2.1"/>
<text x="256.3" y="480.7" class="leg" textLength="31.6" lengthAdjust="spacingAndGlyphs">ASXL1</text>
<text x="288.5" y="474.5" class="sup" textLength="11.6" lengthAdjust="spacingAndGlyphs">WT</text>
<rect x="305.0" y="472.8" width="1.1" height="10.6" fill="#111"/>
<text x="310.2" y="480.7" class="leg" textLength="29.3" lengthAdjust="spacingAndGlyphs">NRAS</text>
<text x="340.3" y="474.5" class="sup" textLength="11.6" lengthAdjust="spacingAndGlyphs">MT</text>
<text x="352.2" y="480.7" class="leg">,</text>
<text x="358.1" y="480.7" class="leg" textLength="26.0" lengthAdjust="spacingAndGlyphs">n=89</text>
<line x1="222.8" y1="493.0" x2="251.3" y2="493.0" stroke="#2eb043" stroke-width="2.1"/>
<text x="256.3" y="496.9" class="leg" textLength="31.6" lengthAdjust="spacingAndGlyphs">ASXL1</text>
<text x="288.5" y="490.7" class="sup" textLength="11.6" lengthAdjust="spacingAndGlyphs">MT</text>
<rect x="305.0" y="489.0" width="1.1" height="10.6" fill="#111"/>
<text x="310.2" y="496.9" class="leg" textLength="29.3" lengthAdjust="spacingAndGlyphs">NRAS</text>
<text x="340.3" y="490.7" class="sup" textLength="11.6" lengthAdjust="spacingAndGlyphs">WT</text>
<text x="352.2" y="496.9" class="leg">,</text>
<text x="358.1" y="496.9" class="leg" textLength="32.0" lengthAdjust="spacingAndGlyphs">n=326</text>
<line x1="222.8" y1="509.2" x2="251.3" y2="509.2" stroke="#4d1562" stroke-width="2.1"/>
<text x="256.3" y="513.1" class="leg" textLength="31.6" lengthAdjust="spacingAndGlyphs">ASXL1</text>
<text x="288.5" y="506.9" class="sup" textLength="11.6" lengthAdjust="spacingAndGlyphs">MT</text>
<rect x="305.0" y="505.2" width="1.1" height="10.6" fill="#111"/>
<text x="310.2" y="513.1" class="leg" textLength="29.3" lengthAdjust="spacingAndGlyphs">NRAS</text>
<text x="340.3" y="506.9" class="sup" textLength="11.6" lengthAdjust="spacingAndGlyphs">MT</text>
<text x="352.2" y="513.1" class="leg">,</text>
<text x="358.1" y="513.1" class="leg" textLength="26.0" lengthAdjust="spacingAndGlyphs">n=78</text>
<polyline points="394.7,456.9 401.1,456.9 401.1,479.4 394.7,479.4" fill="none" stroke="#111" stroke-width="1.5"/>
<polyline points="394.7,490.7 401.1,490.7 401.1,512.6 394.7,512.6" fill="none" stroke="#111" stroke-width="1.5"/>
<polyline points="454.4,456.9 460.4,456.9 460.4,512.6 454.4,512.6" fill="none" stroke="#111" stroke-width="1.5"/>
<text x="406" y="470.4" class="pv" textLength="48.5" lengthAdjust="spacingAndGlyphs">p&lt;0.0001</text>
<text x="406" y="504.5" class="pv" textLength="48.5" lengthAdjust="spacingAndGlyphs">p=0.0469</text>
<text x="465.9" y="489.2" class="pv" textLength="48.5" lengthAdjust="spacingAndGlyphs">p&lt;0.0001</text>
</svg>
</body></html>
